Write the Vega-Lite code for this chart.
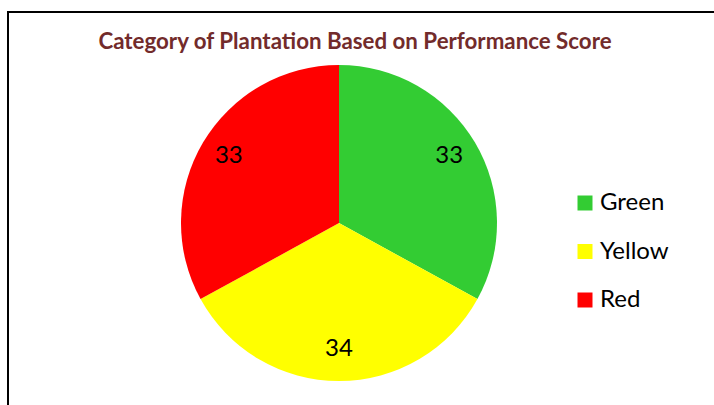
{
  "$schema": "https://vega.github.io/schema/vega-lite/v6.json",
  "autosize": {"type": "none"},
  "padding": {"left": 8, "top": 12, "right": 0, "bottom": 0},
  "width": 714,
  "height": 400,
  "background": "white",
  "view": {"stroke": "black", "strokeWidth": 2, "fill": "white"},
  "config": {
    "view": {"stroke": "black", "strokeWidth": 2},
    "font": "Lato"
  },
  "title": {
    "text": "Category of Plantation Based on Performance Score",
    "font": "Lato",
    "fontSize": 22.3,
    "fontWeight": "bold",
    "color": "#722B2B",
    "anchor": "middle",
    "baseline": "alphabetic",
    "offset": -59,
    "dx": -10
  },
  "data": {
    "values": [
      {"category": "Green", "value": 33, "order": 1},
      {"category": "Yellow", "value": 34, "order": 2},
      {"category": "Red", "value": 33, "order": 3}
    ]
  },
  "encoding": {
    "theta": {"field": "value", "type": "quantitative", "stack": true},
    "order": {"field": "order", "type": "quantitative"},
    "color": {
      "field": "category",
      "type": "nominal",
      "sort": ["Green", "Yellow", "Red"],
      "scale": {"domain": ["Green", "Yellow", "Red"], "range": ["#33CC33", "#FFFF00", "#FF0000"]},
      "legend": {
        "title": null,
        "orient": "none",
        "legendX": 565,
        "legendY": 179,
        "symbolType": "square",
        "symbolSize": 225,
        "symbolStrokeWidth": 0,
        "labelFont": "Lato",
        "labelFontSize": 24,
        "labelColor": "black",
        "labelOffset": 3,
        "rowPadding": 24.5
      }
    }
  },
  "layer": [
    {
      "mark": {"type": "arc", "x": 331, "y": 211, "outerRadius": 158}
    },
    {
      "mark": {"type": "text", "x": 331, "y": 211, "radius": 128, "dy": -2, "font": "Lato", "fontSize": 24, "color": "black", "baseline": "middle", "align": "center"},
      "encoding": {
        "text": {"field": "value", "type": "quantitative"},
        "color": {"value": "black"}
      }
    }
  ]
}
